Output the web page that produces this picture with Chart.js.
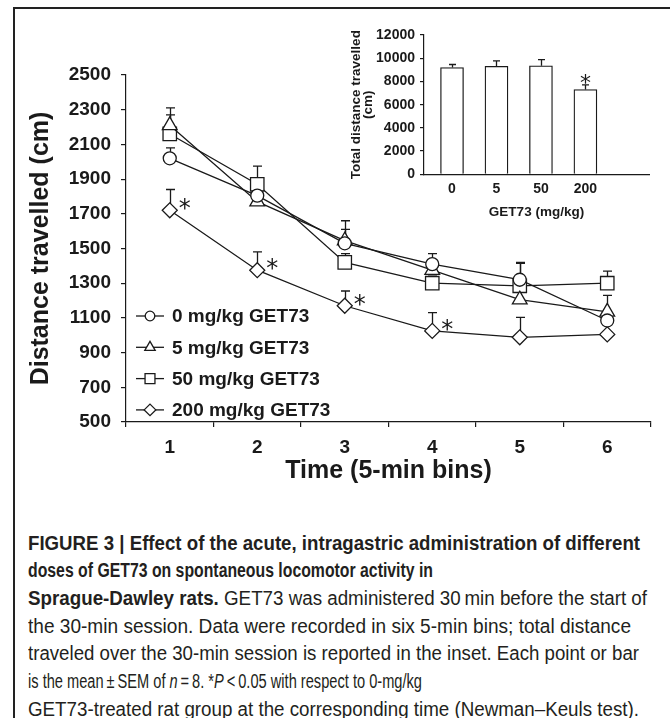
<!DOCTYPE html>
<html>
<head>
<meta charset="utf-8">
<script src="https://cdn.jsdelivr.net/npm/chart.js@4.4.1/dist/chart.umd.min.js"></script>
<style>
html,body{margin:0;padding:0;background:#fff;width:670px;height:718px;overflow:hidden;position:relative;}
#frame{position:absolute;left:13px;top:7px;width:680px;height:730px;border-left:2px solid #222;border-top:2px solid #222;}
#main{position:absolute;left:0;top:0;}
#inset{position:absolute;left:300px;top:0;}
#caption{position:absolute;left:28px;top:529.5px;font-family:"Liberation Sans Narrow","Liberation Sans",Arial,sans-serif;font-size:19.5px;line-height:27.7px;color:#231f20;}
#caption div{white-space:nowrap;transform-origin:0 50%;width:max-content;}
#caption b{font-weight:bold;}
</style>
</head>
<body>
<div id="frame"></div>
<canvas id="main" width="670" height="500"></canvas>
<canvas id="inset" width="370" height="230"></canvas>
<div id="caption">
<div><b>FIGURE 3 | Effect of the acute, intragastric administration of different</b></div>
<div><b>doses of GET73 on spontaneous locomotor activity in</b></div>
<div><b>Sprague-Dawley rats.</b> GET73 was administered 30&#8201;min before the start of</div>
<div>the 30-min session. Data were recorded in six 5-min bins; total distance</div>
<div>traveled over the 30-min session is reported in the inset. Each point or bar</div>
<div>is the mean&#8201;±&#8201;SEM of <i>n</i>&#8201;=&#8201;8. *<i>P</i>&#8201;&lt;&#8201;0.05 with respect to 0-mg/kg</div>
<div>GET73-treated rat group at the corresponding time (Newman–Keuls test).</div>
</div>
<script>
// ---- data ----
const timeBins = ['1', '2', '3', '4', '5', '6'];
const mainYTicks = [500, 700, 900, 1100, 1300, 1500, 1700, 1900, 2100, 2300, 2500];
const seriesLabels = ['0 mg/kg GET73', '5 mg/kg GET73', '50 mg/kg GET73', '200 mg/kg GET73'];
const dose0 = [2020, 1805, 1530, 1410, 1320, 1085];
const dose0Err = [60, 40, 80, 60, 100, 50];
const dose5 = [2210, 1770, 1545, 1375, 1205, 1135];
const dose5Err = [100, 30, 115, 60, 50, 95];
const dose50 = [2160, 1870, 1420, 1300, 1285, 1300];
const dose50Err = [110, 105, 50, 40, 130, 70];
const dose200 = [1720, 1375, 1170, 1025, 988, 1005];
const dose200Err = [120, 105, 85, 105, 115, 15];
const dose200Signif = [true, true, true, true, false, false];

const doseLabels = ['0', '5', '50', '200'];
const insetYTicks = [0, 2000, 4000, 6000, 8000, 10000, 12000];
const totalDistance = [9200, 9300, 9350, 7300];
const totalDistanceErr = [260, 470, 530, 400];
const totalSignif = [false, false, false, true];

// ---- styling ----
const FONT = 'Liberation Sans, Arial, sans-serif';
const INK = '#1a1a1a';

const errorBars = {
  id: 'errorBars',
  beforeDatasetsDraw(chart, args, opts) {
    const ctx = chart.ctx;
    const ys = chart.scales.y;
    ctx.save();
    ctx.strokeStyle = INK;
    ctx.lineWidth = 1.3;
    chart.data.datasets.forEach((ds, i) => {
      if (!ds.errors) return;
      const meta = chart.getDatasetMeta(i);
      meta.data.forEach((el, j) => {
        const d = ds.data[j];
        const v = (typeof d === 'object') ? d.y : d;
        const x = Math.round(el.x) + 0.5;
        const yTop = ys.getPixelForValue(v + ds.errors[j]);
        const y0 = ys.getPixelForValue(v);
        ctx.beginPath();
        ctx.moveTo(x, y0);
        ctx.lineTo(x, yTop);
        ctx.moveTo(x - opts.cap, yTop);
        ctx.lineTo(x + opts.cap, yTop);
        ctx.stroke();
      });
    });
    ctx.restore();
  }
};

const asterisks = {
  id: 'asterisks',
  afterDatasetsDraw(chart, args, opts) {
    const ctx = chart.ctx;
    const ys = chart.scales.y;
    ctx.save();
    ctx.fillStyle = INK;
    ctx.font = opts.size + 'px DejaVu Sans';
    ctx.textAlign = 'center';
    ctx.textBaseline = 'alphabetic';
    chart.data.datasets.forEach((ds, i) => {
      if (!ds.signif) return;
      const meta = chart.getDatasetMeta(i);
      meta.data.forEach((el, j) => {
        if (!ds.signif[j]) return;
        const d = ds.data[j];
        const v = (typeof d === 'object') ? d.y : d;
        let x, y;
        if (opts.aboveError) {
          x = el.x;
          y = ys.getPixelForValue(v + ds.errors[j]) + opts.dy;
        } else {
          x = el.x + opts.dx;
          y = el.y + opts.dy;
        }
        ctx.fillText('*', x, y);
      });
    });
    ctx.restore();
  }
};

const sideLegend = {
  id: 'sideLegend',
  afterDraw(chart, args, opts) {
    const ctx = chart.ctx;
    ctx.save();
    chart.data.datasets.forEach((ds, i) => {
      const y = opts.y0 + i * opts.step;
      ctx.strokeStyle = INK;
      ctx.lineWidth = 1.3;
      ctx.beginPath();
      ctx.moveTo(opts.x0, y);
      ctx.lineTo(opts.x0 + opts.len, y);
      ctx.stroke();
      ctx.fillStyle = '#fff';
      Chart.helpers.drawPoint(ctx, {pointStyle: ds.pointStyle, radius: ds.legendRadius, rotation: 0, borderWidth: 1.3}, opts.x0 + opts.len / 2, y);
      ctx.fillStyle = INK;
      ctx.font = 'bold 19px ' + FONT;
      ctx.textAlign = 'left';
      ctx.textBaseline = 'middle';
      ctx.fillText(ds.label, opts.x0 + opts.len + 8, y + 1);
    });
    ctx.restore();
  }
};

function lineSet(label, data, errs, style, r, lr, signif) {
  return {
    label: label, data: data, errors: errs, signif: signif,
    borderColor: INK, borderWidth: 1.3, tension: 0,
    pointStyle: style, pointRadius: r, legendRadius: lr,
    pointBackgroundColor: '#fff', pointBorderColor: INK, pointBorderWidth: 1.3,
    fill: false
  };
}

const plain = (v) => String(v);

new Chart(document.getElementById('main'), {
  type: 'line',
  data: {
    labels: timeBins,
    datasets: [
      lineSet(seriesLabels[0], dose0, dose0Err, 'circle', 6.5, 4.8),
      lineSet(seriesLabels[1], dose5, dose5Err, 'triangle', 8.5, 6),
      lineSet(seriesLabels[2], dose50, dose50Err, 'rect', 9.5, 7),
      lineSet(seriesLabels[3], dose200, dose200Err, 'rectRot', 7.5, 5.8, dose200Signif)
    ]
  },
  options: {
    responsive: false,
    animation: false,
    layout: {padding: {left: 0, right: 19, top: 75, bottom: 0}},
    plugins: {
      legend: {display: false},
      tooltip: {enabled: false},
      errorBars: {cap: 4.5},
      asterisks: {size: 24, dx: 15, dy: 6},
      sideLegend: {x0: 136, len: 28, y0: 316, step: 31.3}
    },
    scales: {
      x: {
        type: 'category',
        offset: true,
        grid: {offset: true, drawOnChartArea: false, drawTicks: true, tickLength: 5, color: INK, lineWidth: 1.2},
        border: {color: INK, width: 1.2},
        ticks: {color: INK, font: {family: FONT, weight: 'bold', size: 19}, padding: 9, maxRotation: 0},
        title: {display: true, text: 'Time (5-min bins)', color: INK, font: {family: FONT, weight: 'bold', size: 25}, padding: {top: 0, bottom: 14}},
        afterFit(s) { s.height = 78; }
      },
      y: {
        min: 500, max: 2500,
        afterBuildTicks(s) { s.ticks = mainYTicks.map(v => ({value: v})); },
        grid: {drawOnChartArea: false, drawTicks: true, tickLength: 5, color: INK, lineWidth: 1.2},
        border: {color: INK, width: 1.2},
        ticks: {color: INK, font: {family: FONT, weight: 'bold', size: 19}, padding: 10, callback: plain},
        title: {display: true, text: 'Distance travelled (cm)', color: INK, font: {family: FONT, weight: 'bold', size: 25}, padding: {top: 26, bottom: 0}},
        afterFit(s) { s.width = 126; }
      }
    }
  },
  plugins: [errorBars, asterisks, sideLegend]
});

new Chart(document.getElementById('inset'), {
  type: 'bar',
  data: {
    datasets: [{
      data: doseLabels.map((_, i) => ({x: i, y: totalDistance[i]})),
      errors: totalDistanceErr,
      signif: totalSignif,
      backgroundColor: '#fff',
      borderColor: INK,
      borderWidth: 1.3,
      barThickness: 23
    }]
  },
  options: {
    responsive: false,
    animation: false,
    layout: {padding: {left: 0, right: 21, top: 35, bottom: 0}},
    plugins: {
      legend: {display: false},
      tooltip: {enabled: false},
      errorBars: {cap: 3.5},
      asterisks: {size: 22, aboveError: true, dy: 5}
    },
    scales: {
      x: {
        type: 'linear', min: -0.63, max: 4.43, offset: false,
        afterBuildTicks(s) { s.ticks = doseLabels.map((_, i) => ({value: i})); },
        grid: {drawOnChartArea: false, drawTicks: false, offset: false},
        border: {color: INK, width: 1.2},
        ticks: {color: INK, font: {family: FONT, weight: 'bold', size: 14}, padding: 6, maxRotation: 0,
                callback: (v) => doseLabels[Math.round(v)]},
        title: {display: true, text: 'GET73 (mg/kg)', color: INK, font: {family: FONT, weight: 'bold', size: 13.5}, padding: {top: 0, bottom: 9.6}},
        afterFit(s) { s.height = 55.7; }
      },
      y: {
        min: 0, max: 12000,
        afterBuildTicks(s) { s.ticks = insetYTicks.map(v => ({value: v})); },
        grid: {drawOnChartArea: false, drawTicks: true, tickLength: 4, color: INK, lineWidth: 1.2},
        border: {color: INK, width: 1.2},
        ticks: {color: INK, font: {family: FONT, weight: 'bold', size: 14}, padding: 5, callback: plain},
        title: {display: true, text: ['Total distance travelled', '(cm)'], color: INK, font: {family: FONT, weight: 'bold', size: 13.5, lineHeight: 0.86}, padding: {top: 50.5, bottom: 0}},
        afterFit(s) { s.width = 124; }
      }
    }
  },
  plugins: [errorBars, asterisks]
});

// caption: each line condensed to its width in the reference
const captionLineWidths = [612, 405, 619, 603, 611, 394, 611];
document.querySelectorAll('#caption div').forEach((d, i) => {
  const w = d.getBoundingClientRect().width;
  d.style.transform = 'scaleX(' + (captionLineWidths[i] / w) + ')';
});
</script>
</body>
</html>
